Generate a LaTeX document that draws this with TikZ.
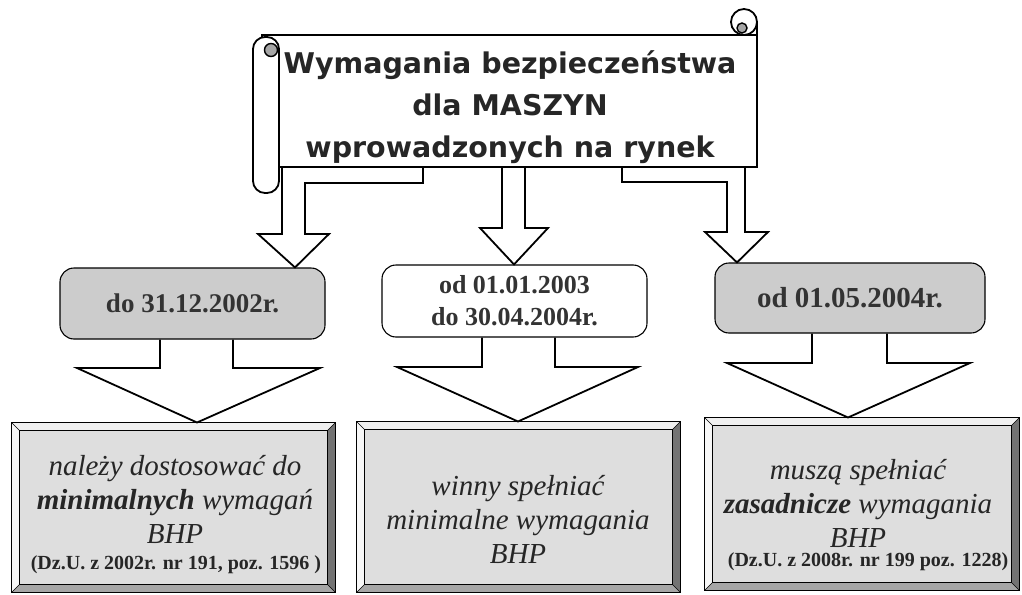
\documentclass[tikz,border=0pt]{standalone}
\usepackage{fontspec}
\setmainfont{Liberation Serif}
\newfontfamily\headfont{DejaVu Sans}

% bevelled frame round a requirement box
\newcommand{\bevelframe}[1]{%
  \fill[black!6] (#1.north west) -- (#1.north east) -- ([shift={(-8,8)}]#1.north east) -- ([shift={(8,8)}]#1.north west) -- cycle;
  \fill[black!3] (#1.north west) -- ([shift={(8,8)}]#1.north west) -- ([shift={(8,-8)}]#1.south west) -- (#1.south west) -- cycle;
  \fill[black!55] (#1.north east) -- (#1.south east) -- ([shift={(-8,-8)}]#1.south east) -- ([shift={(-8,8)}]#1.north east) -- cycle;
  \fill[black!35] (#1.south west) -- (#1.south east) -- ([shift={(-8,-8)}]#1.south east) -- ([shift={(8,-8)}]#1.south west) -- cycle;
  \draw[line width=.5pt] (#1.north west) -- ([shift={(8,8)}]#1.north west)
    (#1.north east) -- ([shift={(-8,8)}]#1.north east)
    (#1.south west) -- ([shift={(8,-8)}]#1.south west)
    (#1.south east) -- ([shift={(-8,-8)}]#1.south east);
  \draw[line width=.8pt] ([shift={(8,8)}]#1.north west) rectangle ([shift={(-8,-8)}]#1.south east);
  \draw[line width=1pt] (#1.north west) rectangle (#1.south east);
}

\begin{document}
\begin{tikzpicture}[x=1pt,y=-1pt,
          scrollln/.style={draw,line width=1.8pt,fill=white},
          datebox/.style={draw,line width=1.1pt,rounded corners=14pt,align=center,
            font=\fontsize{27}{32}\selectfont\bfseries,text=black!80},
          reqbox/.style={draw,line width=1pt,fill=black!13,inner sep=0pt},
          reqtext/.style={align=center,font=\fontsize{29}{34}\selectfont\itshape,text=black!85},
          lawtext/.style={font=\fontsize{20}{24}\selectfont\bfseries,text=black!85},
          bigarrow/.style={draw,line width=1.8pt,line join=miter}
            ]
    \useasboundingbox (0,0) rectangle (1022,594);

    % scroll with the heading
    \node[scrollln,minimum width=495pt,minimum height=132pt,inner sep=0pt] (scroll) at (509.5,101) {};
    \draw[scrollln,rounded corners=12pt] (253,37) rectangle (279,193);
    \draw[line width=1.4pt,fill=black!35] (271,50) circle (6.5);
    \draw[scrollln] (744,22) circle (13);
    \draw[line width=1.4pt,fill=black!35] (742,28) circle (5);
    \draw[line width=1.8pt] (757,22) -- (757,35);
    \node[align=center,font=\headfont\fontsize{28.5}{42}\selectfont\bfseries,text=black!85]
      (title) at (510,107.5) {Wymagania bezpieczeństwa\\dla MASZYN\\wprowadzonych na rynek};

    % dates
    \node[datebox,fill=black!20,minimum width=265pt,minimum height=71pt] (d1) at (192.5,303.5) {do 31.12.2002r.};
    \node[datebox,fill=white,minimum width=265pt,minimum height=72pt,
      font=\fontsize{26}{32}\selectfont\bfseries] (d2) at (514.5,301) {od 01.01.2003\\do 30.04.2004r.};
    \node[datebox,fill=black!20,minimum width=270pt,minimum height=70pt,
      font=\fontsize{29}{34}\selectfont\bfseries] (d3) at (850,298) {od 01.05.2004r.};

    % requirements
    \node[reqbox,minimum width=323pt,minimum height=169pt] (r1) at (173.5,507.5) {};
    \node[reqbox,minimum width=323pt,minimum height=170pt] (r2) at (518.5,507) {};
    \node[reqbox,minimum width=314pt,minimum height=172pt] (r3) at (862,504) {};
    \bevelframe{r1}
    \bevelframe{r2}
    \bevelframe{r3}
    \node[reqtext] (t1) at (175,499) {należy dostosować do\\\textbf{minimalnych} wymagań\\BHP};
    \node[lawtext] (l1) at (176,565) {(Dz.U. z 2002r. nr 191, poz. 1596 )};
    \node[reqtext] (t2) at (518,519) {winny spełniać\\minimalne wymagania\\BHP};
    \node[reqtext] (t3) at (858,503) {muszą spełniać\\\textbf{zasadnicze} wymagania\\BHP};
    \node[lawtext] (l3) at (868,562) {(Dz.U. z 2008r. nr 199 poz. 1228)};

    % arrows from the scroll
    \draw[bigarrow] (423,0 |- scroll.south) -- (423,183) -- (305,183) -- (305,234) -- (329,234)
      -- (295,0 |- d1.north) -- (258,234) -- (282,234) -- (282,0 |- scroll.south);
    \draw[bigarrow] (502,0 |- scroll.south) -- (502,228) -- (480,228)
      -- (514,0 |- d2.north) -- (548,228) -- (525,228) -- (525,0 |- scroll.south);
    \draw[bigarrow] (622,0 |- scroll.south) -- (622,182) -- (727,182) -- (727,232) -- (705,232)
      -- (737,0 |- d3.north) -- (768,232) -- (745,232) -- (745,0 |- scroll.south);

    % arrows to the requirements
    \draw[bigarrow] (160,0 |- d1.south) -- (160,368) -- (77,368)
      -- (197,0 |- r1.north) -- (320,368) -- (233,368) -- (233,0 |- d1.south);
    \draw[bigarrow] (482,0 |- d2.south) -- (482,367) -- (397,367)
      -- (518,0 |- r2.north) -- (638,367) -- (555,367) -- (555,0 |- d2.south);
    \draw[bigarrow] (812,0 |- d3.south) -- (812,363) -- (727,363)
      -- (848,0 |- r3.north) -- (970,363) -- (887,363) -- (887,0 |- d3.south);
\end{tikzpicture}
\end{document}
